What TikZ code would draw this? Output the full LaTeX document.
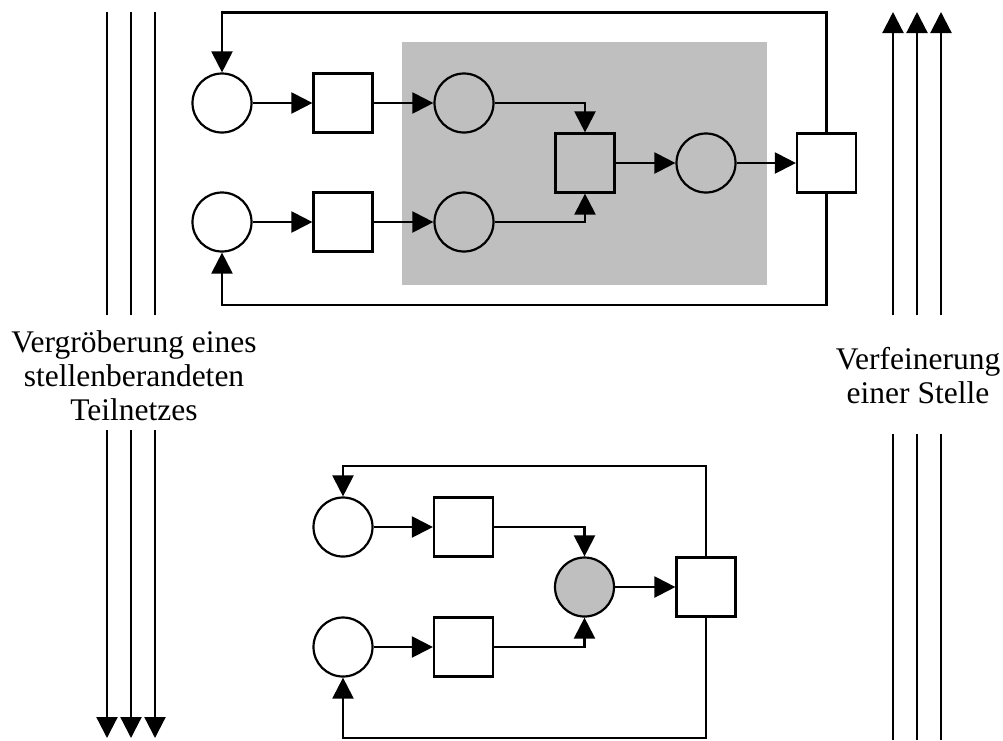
\documentclass[tikz,border=0pt]{standalone}
\usepackage{fontspec}
\setmainfont{Liberation Serif}
\usetikzlibrary{arrows.meta}
\definecolor{netgray}{HTML}{BFBFBF}
\begin{document}
\begin{tikzpicture}[x=1pt,y=-1pt,
  line width=2.2pt,
  place/.style={circle,draw,fill=white,minimum size=59pt,inner sep=0pt},
  gplace/.style={place,fill=netgray},
  trans/.style={rectangle,draw,fill=white,minimum size=59pt,inner sep=0pt},
  gtrans/.style={trans,fill=netgray},
  arc/.style={-{Triangle[length=21pt,width=21pt]}},
  sidetext/.style={font=\fontsize{31.5}{34}\selectfont,align=center,inner sep=0pt}]
\useasboundingbox (0,0) rectangle (1003,740);

% ---------- upper net: refined place (grey subnet) ----------
\fill[netgray] (402,42) rectangle (767,285);

\node[place]  (P1) at (222,103) {};
\node[place]  (P2) at (222,222) {};
\node[trans]  (T1) at (343,103) {};
\node[trans]  (T2) at (343,222) {};
\node[gplace] (P3) at (464,103) {};
\node[gplace] (P4) at (464,222) {};
\node[gtrans] (T3) at (585,163) {};
\node[gplace] (P5) at (706,163) {};
\node[trans]  (T4) at (826.5,163) {};

\coordinate (topR) at (826.5,12.5);
\coordinate (botR) at (826.5,305);

\draw[arc] (P1) -- (T1);
\draw[arc] (P2) -- (T2);
\draw[arc] (T1) -- (P3);
\draw[arc] (T2) -- (P4);
\draw[arc] (P3.east) -| (T3.north);
\draw[arc] (P4.east) -| (T3.south);
\draw[arc] (T3) -- (P5);
\draw[arc] (P5) -- (T4);
\draw[arc] (T4.north) -- (topR) -| (P1.north);
\draw[arc] (T4.south) -- (botR) -| (P2.south);

% ---------- lower net: coarsened place ----------
\node[place]  (Q1) at (343,527) {};
\node[place]  (Q2) at (343,647) {};
\node[trans]  (U1) at (463.5,527) {};
\node[trans]  (U2) at (463.5,647) {};
\node[gplace] (Q3) at (584.5,587) {};
\node[trans]  (U3) at (706,587) {};

\coordinate (topR2) at (706,466);
\coordinate (botR2) at (706,738);

\draw[arc] (Q1) -- (U1);
\draw[arc] (Q2) -- (U2);
\draw[arc] (U1.east) -| (Q3.north);
\draw[arc] (U2.east) -| (Q3.south);
\draw[arc] (Q3) -- (U3);
\draw[arc] (U3.north) -- (topR2) -| (Q1.north);
\draw[arc] (U3.south) -- (botR2) -| (Q2.south);

% ---------- transformation arrows and captions ----------
\node[sidetext] (coarse) at (134,376) {Vergröberung eines\\stellenberandeten\\Teilnetzes};
\node[sidetext] (fine) at (918,376) {Verfeinerung\\einer Stelle};

\foreach \x in {107,131,155} {
  \draw (\x,12) -- (\x,315);
  \draw[arc] (\x,430) -- (\x,738);
}
\foreach \x in {893,917,941} {
  \draw[arc] (\x,315) -- (\x,12);
  \draw (\x,434) -- (\x,740);
}
\end{tikzpicture}
\end{document}
